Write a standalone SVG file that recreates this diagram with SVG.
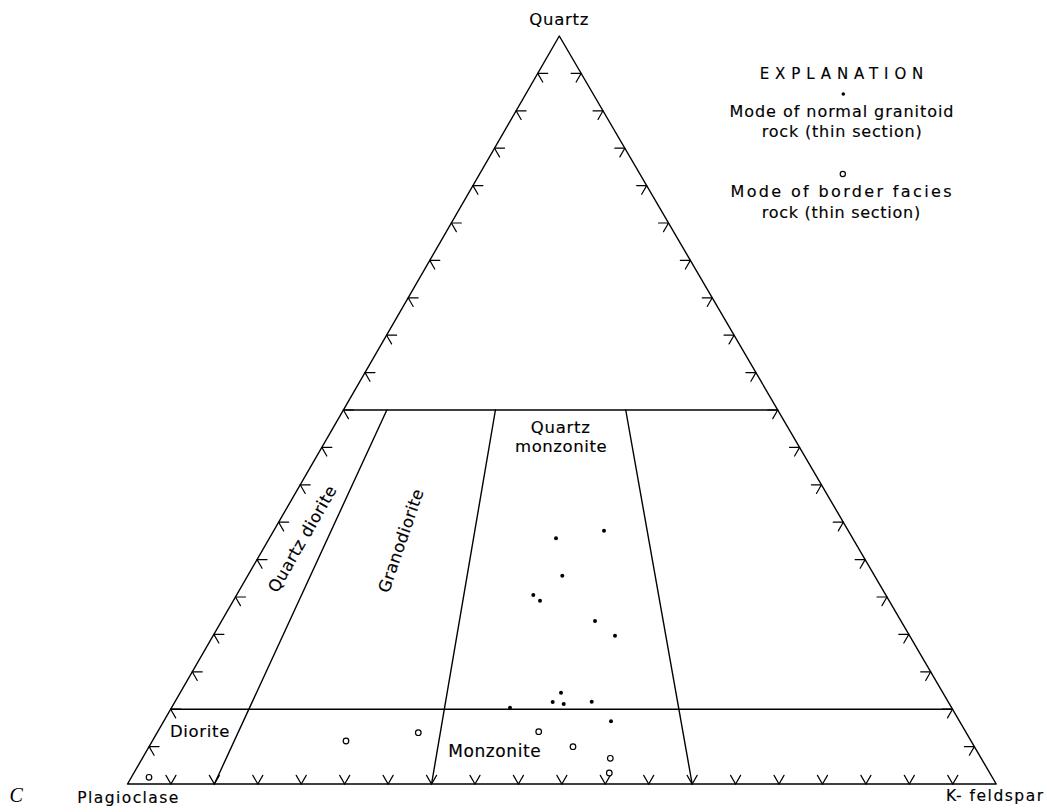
<svg xmlns="http://www.w3.org/2000/svg" xmlns:xlink="http://www.w3.org/1999/xlink" width="1047" height="812" viewBox="0 0 1047 812">
<style>
.ln{stroke:#000;stroke-width:1.4;fill:none;stroke-linecap:round;stroke-linejoin:round}
.tk{stroke:#000;stroke-width:1.2;fill:none;stroke-linecap:round}
.t{font-family:"DejaVu Sans","Liberation Sans",Arial,sans-serif;fill:#000;stroke:#000;stroke-width:0.15}
.dot{fill:#000}
.ring{fill:#fff;stroke:#000;stroke-width:1.2}
</style>
<defs>
<path id="tL" class="tk" d="M0,0 h10 M0,0 l5,8.66"/>
<path id="tR" class="tk" d="M0,0 h-10 M0,0 l-5,8.66"/>
<path id="tB" class="tk" d="M-5,-8.66 L0,0 L5,-8.66"/>
</defs>
<rect width="1047" height="812" fill="#fff"/>

<g id="frame">
<path class="ln" d="M559.3,36 L127.5,784 L996.2,784 Z"/>
</g>

<g id="connectors">
<line class="ln" x1="343.4" y1="410" x2="777.75" y2="410"/>
<line class="ln" x1="170.68" y1="709.2" x2="952.51" y2="709.2"/>
<line class="ln" x1="386.84" y1="410" x2="214.37" y2="784"/>
<line class="ln" x1="495.43" y1="410" x2="431.55" y2="784"/>
<line class="ln" x1="625.73" y1="410" x2="692.16" y2="784"/>
</g>

<g id="ticks-left">
<use href="#tL" x="149.09" y="746.6"/><use href="#tL" x="170.68" y="709.2"/><use href="#tL" x="192.27" y="671.8"/><use href="#tL" x="213.86" y="634.4"/><use href="#tL" x="235.45" y="597"/><use href="#tL" x="257.04" y="559.6"/><use href="#tL" x="278.63" y="522.2"/><use href="#tL" x="300.22" y="484.8"/><use href="#tL" x="321.81" y="447.4"/><use href="#tL" x="343.4" y="410"/><use href="#tL" x="364.99" y="372.6"/><use href="#tL" x="386.58" y="335.2"/><use href="#tL" x="408.17" y="297.8"/><use href="#tL" x="429.76" y="260.4"/><use href="#tL" x="451.35" y="223"/><use href="#tL" x="472.94" y="185.6"/><use href="#tL" x="494.53" y="148.2"/><use href="#tL" x="516.12" y="110.8"/><use href="#tL" x="537.71" y="73.4"/>
</g>
<g id="ticks-right">
<use href="#tR" x="974.36" y="746.6"/><use href="#tR" x="952.51" y="709.2"/><use href="#tR" x="930.67" y="671.8"/><use href="#tR" x="908.82" y="634.4"/><use href="#tR" x="886.98" y="597"/><use href="#tR" x="865.13" y="559.6"/><use href="#tR" x="843.29" y="522.2"/><use href="#tR" x="821.44" y="484.8"/><use href="#tR" x="799.6" y="447.4"/><use href="#tR" x="777.75" y="410"/><use href="#tR" x="755.91" y="372.6"/><use href="#tR" x="734.06" y="335.2"/><use href="#tR" x="712.22" y="297.8"/><use href="#tR" x="690.37" y="260.4"/><use href="#tR" x="668.53" y="223"/><use href="#tR" x="646.68" y="185.6"/><use href="#tR" x="624.84" y="148.2"/><use href="#tR" x="602.99" y="110.8"/><use href="#tR" x="581.15" y="73.4"/>
</g>
<g id="ticks-base">
<use href="#tB" x="170.94" y="784"/><use href="#tB" x="214.37" y="784"/><use href="#tB" x="257.81" y="784"/><use href="#tB" x="301.24" y="784"/><use href="#tB" x="344.68" y="784"/><use href="#tB" x="388.11" y="784"/><use href="#tB" x="431.55" y="784"/><use href="#tB" x="474.98" y="784"/><use href="#tB" x="518.42" y="784"/><use href="#tB" x="561.85" y="784"/><use href="#tB" x="605.29" y="784"/><use href="#tB" x="648.72" y="784"/><use href="#tB" x="692.16" y="784"/><use href="#tB" x="735.59" y="784"/><use href="#tB" x="779.03" y="784"/><use href="#tB" x="822.46" y="784"/><use href="#tB" x="865.9" y="784"/><use href="#tB" x="909.33" y="784"/><use href="#tB" x="952.77" y="784"/>
</g>

<g id="node-quartz"><text class="t" x="529.3" y="25" font-size="16.5" textLength="59" lengthAdjust="spacing">Quartz</text></g>
<g id="node-plagioclase"><text class="t" x="77.3" y="803" font-size="15.5" textLength="101" lengthAdjust="spacing">Plagioclase</text></g>
<g id="node-kfeldspar"><text class="t" x="946" y="801" font-size="15.5" textLength="97" lengthAdjust="spacing">K- feldspar</text></g>
<g id="node-c"><text x="9.5" y="802" font-family="'Liberation Serif','Times New Roman',serif" font-style="italic" font-size="20" fill="#000">C</text></g>

<g id="node-quartz-monzonite">
<text class="t" x="530.7" y="433.3" font-size="16.5" textLength="59.3" lengthAdjust="spacing">Quartz</text>
<text class="t" x="515" y="451.7" font-size="16.5" textLength="91.7" lengthAdjust="spacing">monzonite</text>
</g>
<g id="node-quartz-diorite"><text class="t" x="307.2" y="541.9" font-size="16.5" text-anchor="middle" textLength="120" lengthAdjust="spacing" transform="rotate(-60 307.2 541.9)">Quartz diorite</text></g>
<g id="node-granodiorite"><text class="t" x="406.3" y="542.6" font-size="16.5" text-anchor="middle" textLength="108" lengthAdjust="spacing" transform="rotate(-71 406.3 542.6)">Granodiorite</text></g>
<g id="node-diorite"><text class="t" x="170" y="737.3" font-size="16.5" textLength="59.3" lengthAdjust="spacing">Diorite</text></g>
<g id="node-monzonite"><text class="t" x="448.3" y="757.3" font-size="17" textLength="92.4" lengthAdjust="spacing">Monzonite</text></g>

<g id="node-explanation">
<text class="t" x="841.5" y="78.6" font-size="15" text-anchor="middle" textLength="163.7" lengthAdjust="spacing">EXPLANATION</text>
<circle class="dot" cx="843.3" cy="94" r="1.8"/>
<text class="t" x="841.5" y="117.2" font-size="16" text-anchor="middle" textLength="224" lengthAdjust="spacing">Mode of normal granitoid</text>
<text class="t" x="841.7" y="137.3" font-size="16" text-anchor="middle" textLength="160" lengthAdjust="spacing">rock (thin section)</text>
<circle class="ring" cx="842.8" cy="174" r="2.6"/>
<text class="t" x="841" y="196.8" font-size="16" text-anchor="middle" textLength="221" lengthAdjust="spacing">Mode of border facies</text>
<text class="t" x="841" y="217.6" font-size="16" text-anchor="middle" textLength="158.3" lengthAdjust="spacing">rock (thin section)</text>
</g>

<g id="data-normal">
<circle class="dot" cx="604" cy="530.7" r="2"/>
<circle class="dot" cx="556" cy="538.3" r="2"/>
<circle class="dot" cx="562.3" cy="575.7" r="2"/>
<circle class="dot" cx="533.3" cy="595" r="2"/>
<circle class="dot" cx="540" cy="600.7" r="2"/>
<circle class="dot" cx="595" cy="621" r="2"/>
<circle class="dot" cx="615" cy="635.7" r="2"/>
<circle class="dot" cx="510" cy="707.7" r="2"/>
<circle class="dot" cx="552.7" cy="702" r="2"/>
<circle class="dot" cx="561" cy="692.7" r="2"/>
<circle class="dot" cx="563.7" cy="704" r="2"/>
<circle class="dot" cx="591.7" cy="701.7" r="2"/>
<circle class="dot" cx="611" cy="721.3" r="2"/>
</g>
<g id="data-border">
<circle class="ring" cx="538.7" cy="731.7" r="2.8"/>
<circle class="ring" cx="573" cy="746.7" r="2.8"/>
<circle class="ring" cx="610.3" cy="758.3" r="2.8"/>
<circle class="ring" cx="609.3" cy="773" r="2.8"/>
<circle class="ring" cx="346" cy="741" r="2.8"/>
<circle class="ring" cx="418.3" cy="732.7" r="2.8"/>
<circle class="ring" cx="149" cy="777.3" r="2.8"/>
</g>
</svg>
